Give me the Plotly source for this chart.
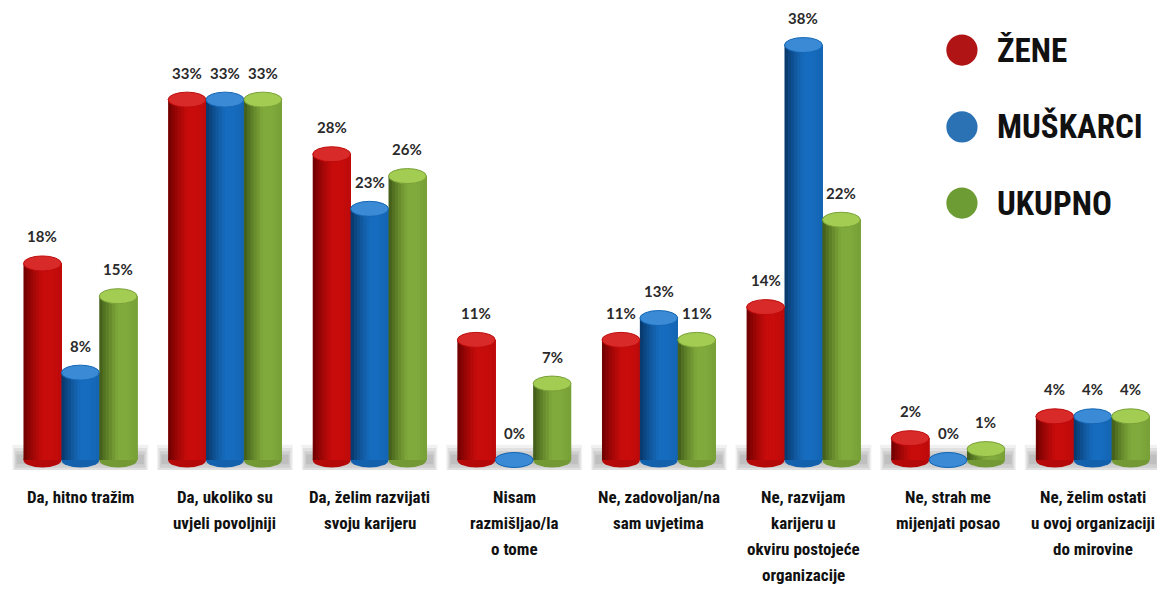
import plotly.graph_objects as go

categories = [
    "Da, hitno tražim",
    "Da, ukoliko su<br>uvjeli povoljniji",
    "Da, želim razvijati<br>svoju karijeru",
    "Nisam<br>razmišljao/la<br>o tome",
    "Ne, zadovoljan/na<br>sam uvjetima",
    "Ne, razvijam<br>karijeru u<br>okviru postojeće<br>organizacije",
    "Ne, strah me<br>mijenjati posao",
    "Ne, želim ostati<br>u ovoj organizaciji<br>do mirovine",
]
series_names = ["ŽENE", "MUŠKARCI", "UKUPNO"]
zene = [18, 33, 28, 11, 11, 14, 2, 4]
muskarci = [8, 33, 23, 0, 13, 38, 0, 4]
ukupno = [15, 33, 26, 7, 11, 22, 1, 4]
series_values = [zene, muskarci, ukupno]

# styles
dark_cols = [(105, 0, 0), (8, 52, 100), (60, 86, 22)]
bright_cols = [(200, 12, 12), (22, 108, 190), (128, 170, 60)]
cap_cols = ["#d92a2a", "#3a8ad6", "#a2cc52"]
legend_cols = ["#b01414", "#2a72b4", "#6e9c34"]
LABEL_FONT = "Roboto Condensed, Liberation Sans Narrow, Roboto, sans-serif"

BAR_W = 0.262
N_STRIPS = 12
PX_PER_UNIT_Y = 10.92
CAP_HALF = 7.5 / PX_PER_UNIT_Y

x_idx = list(range(len(categories)))


def mix(a, b, f):
    return "rgb(%d,%d,%d)" % tuple(int(a[k] + (b[k] - a[k]) * f) for k in range(3))


def profile(t):
    if t < 0.5:
        f = (t / 0.5) ** 0.8
    elif t < 0.75:
        f = 1.0
    else:
        f = 1.0 - (t - 0.75) * 0.5
    return max(0.0, min(1.0, f))


fig = go.Figure()
shapes = []
annotations = []

# floor shadow per group
for i in x_idx:
    for (lo, hi, op, hw) in [(-1.3, 1.4, 0.07, 0.47), (-1.0, 1.1, 0.09, 0.46),
                             (-0.7, 0.8, 0.10, 0.45), (-0.4, 0.5, 0.10, 0.44)]:
        shapes.append(dict(type="rect", xref="x", yref="y", x0=i - hw, x1=i + hw,
                           y0=lo, y1=hi, fillcolor="rgba(60,60,60,%.2f)" % op,
                           line=dict(width=0), layer="below"))

for s, (name, vals) in enumerate(zip(series_names, series_values)):
    base_off = -1.5 * BAR_W + s * BAR_W
    sw = BAR_W / N_STRIPS
    for k in range(N_STRIPS):
        t = (k + 0.5) / N_STRIPS
        col = mix(dark_cols[s], bright_cols[s], profile(t))
        fig.add_trace(go.Bar(
            x=x_idx, y=vals, width=[BAR_W - k * sw] * len(vals), offset=base_off + k * sw,
            marker=dict(color=col, line=dict(width=0)), showlegend=False,
            hoverinfo="skip" if k else "y", name=name,
        ))
    mid_col = mix(dark_cols[s], bright_cols[s], 0.8)
    for i, v in zip(x_idx, vals):
        x0 = i + base_off
        x1 = x0 + BAR_W
        # bottom ellipse
        shapes.append(dict(type="circle", xref="x", yref="y", x0=x0, x1=x1,
                           y0=-CAP_HALF, y1=CAP_HALF, fillcolor=mid_col,
                           line=dict(width=0), layer="below"))
        # top cap
        shapes.append(dict(type="circle", xref="x", yref="y", x0=x0, x1=x1,
                           y0=v - CAP_HALF, y1=v + CAP_HALF, fillcolor=cap_cols[s],
                           line=dict(width=1, color=mix(dark_cols[s], bright_cols[s], 0.9)),
                           layer="above"))
        annotations.append(dict(x=x0 + BAR_W / 2, y=v, xref="x", yref="y",
                                text="%d%%" % v, showarrow=False, yshift=27,
                                yanchor="middle",
                                font=dict(family="Lato, Open Sans, sans-serif", size=15,
                                          color="#2a2a2a", weight="bold")))

# category labels (one annotation per line, 26 px line pitch)
for i, cat in zip(x_idx, categories):
    for k, line in enumerate(cat.split("<br>")):
        annotations.append(dict(x=i, y=0, xref="x", yref="paper", text=line,
                                showarrow=False, yanchor="middle", yshift=-27 - 26 * k,
                                font=dict(family=LABEL_FONT, size=17, color="#111111",
                                          weight="bold")))

# legend (manual, circles + text)
leg_y = [0.913, 0.7457, 0.5804]
for s, name in enumerate(series_names):
    cx = 0.8245
    shapes.append(dict(type="circle", xref="paper", yref="paper",
                       x0=cx - 0.0135, x1=cx + 0.0135, y0=leg_y[s] - 0.034, y1=leg_y[s] + 0.034,
                       fillcolor=legend_cols[s], line=dict(width=0), layer="above"))
    annotations.append(dict(x=0.853, y=leg_y[s], xref="paper", yref="paper",
                            text=name, showarrow=False, xanchor="left", yanchor="middle",
                            font=dict(family=LABEL_FONT, size=33, color="#111111",
                                      weight="bold")))

fig.update_layout(
    width=1157, height=581,
    margin=dict(l=0, r=0, t=2, b=119),
    barmode="overlay",
    paper_bgcolor="white", plot_bgcolor="white",
    shapes=shapes, annotations=annotations,
    showlegend=False,
    xaxis=dict(range=[-0.5, 7.5], tickvals=x_idx, showticklabels=False,
               showgrid=False, zeroline=False, showline=False, ticks=""),
    yaxis=dict(range=[-10 / PX_PER_UNIT_Y, 450 / PX_PER_UNIT_Y], showgrid=False,
               zeroline=False, showticklabels=False, showline=False),
)

fig.write_html("out.html")
